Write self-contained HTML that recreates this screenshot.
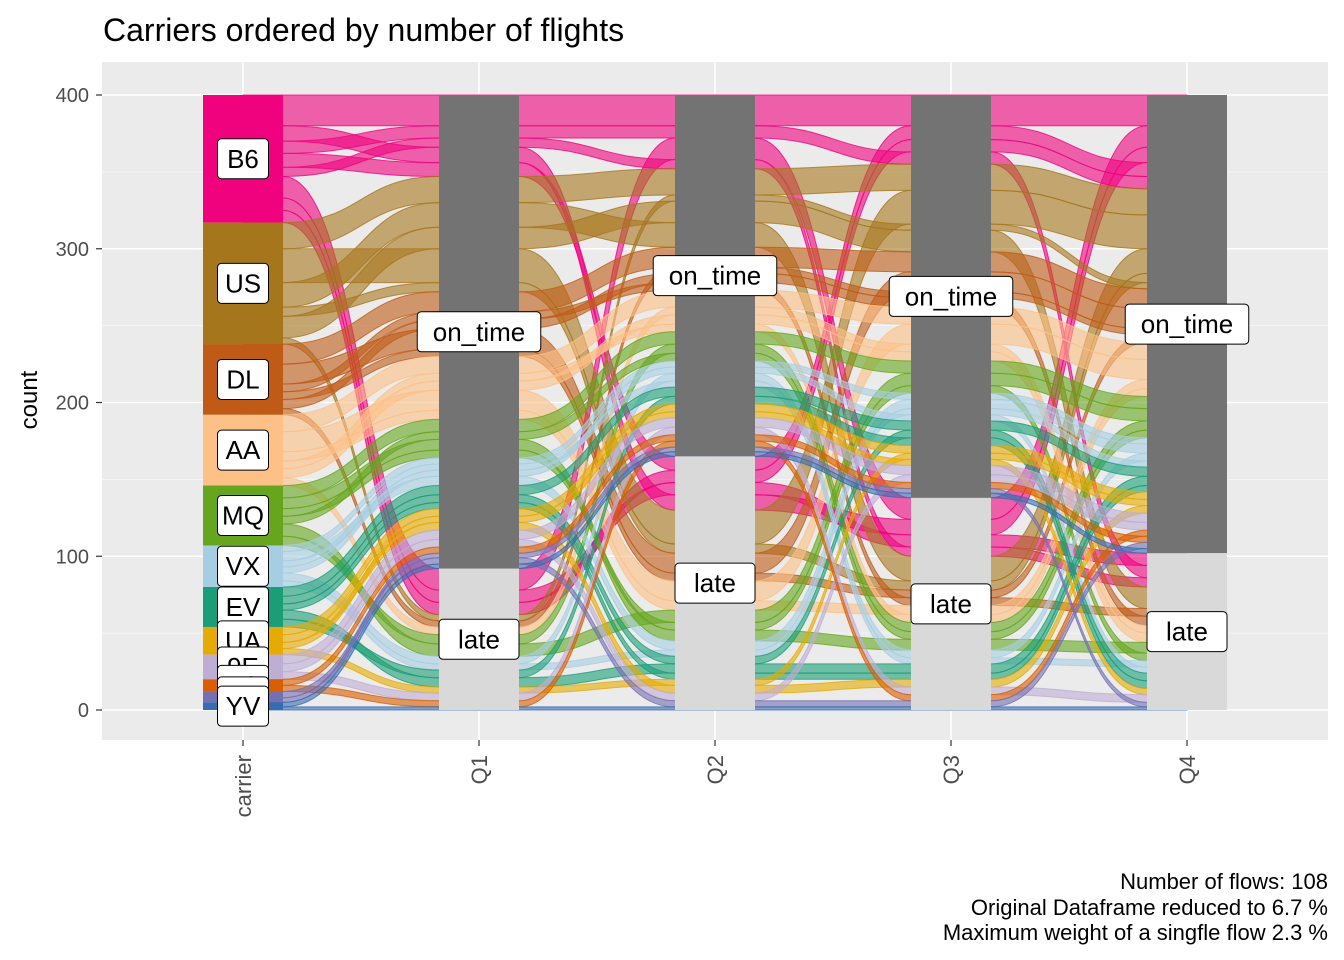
<!DOCTYPE html>
<html><head><meta charset="utf-8">
<style>
body{margin:0;background:#fff;}
svg{display:block;font-family:"Liberation Sans",Arial,sans-serif;}
</style></head>
<body>
<svg id="chart" width="1344" height="960">
<rect x="0" y="0" width="1344" height="960" fill="#fff"/>
<text x="103" y="41" font-size="32" fill="#000">Carriers ordered by number of flights</text>
<rect x="102" y="62" width="1226" height="678" fill="#EBEBEB"/>
<g id="grid"></g>
<g id="flows"></g>
<g id="bars"></g>
<g id="labels"></g>
<g id="axes"></g>
<text transform="translate(37,400) rotate(-90)" text-anchor="middle" font-size="24" fill="#000">count</text>
<g font-size="22" fill="#000" text-anchor="end">
<text x="1328" y="889">Number of flows: 108</text>
<text x="1328" y="915">Original Dataframe reduced to 6.7 %</text>
<text x="1328" y="940">Maximum weight of a singfle flow 2.3 %</text>
</g>
</svg>
<script>
const carriers = ["B6","US","DL","AA","MQ","VX","EV","UA","9E","F9","FL","YV"];
const carrierColors = ["#F0027F","#A6761D","#BF5B17","#FDC086","#66A61E","#A6CEE3","#1B9E77","#E6AB02","#BEAED4","#D95F02","#7570B3","#386CB0"];
const quarters = ["Q1","Q2","Q3","Q4"];
const yTicks = [0,100,200,300,400];
// flows: carrier, status pattern Q1..Q4 (O=on_time, L=late), weight
const flowCarrier = ["B6","B6","B6","B6","B6","B6","B6","B6",
 "US","US","US","US","US","US",
 "DL","DL","DL","DL","DL","DL",
 "AA","AA","AA","AA","AA","AA",
 "MQ","MQ","MQ","MQ","MQ","MQ",
 "VX","VX","VX","VX","VX","VX",
 "EV","EV","EV","EV","EV",
 "UA","UA","UA","UA",
 "9E","9E","9E",
 "F9","F9","FL","FL","YV","YV"];
const flowPattern = ["OOOO","LOLO","LLLL","OLLO","OOOL","OLOO","OOLL","LLOO",
 "OOOO","OLOO","OOLO","OLLO","LOOO","OOOL",
 "OOOO","OLOO","OOLL","LOOO","OLLO","OOOL",
 "OOOO","OLOO","OLLO","LOOL","OOLO","OOOL",
 "OOOO","LLOO","OLLL","LOLO","OLOL","OOLO",
 "OOOO","OLOO","LOLO","OOLL","LLOO","OOOL",
 "OOOO","LLLO","OLOL","LOOL","OLLO",
 "OOOO","LLOO","OLLO","OOOL",
 "OOOO","OLOO","LOLL",
 "LOLO","OOOO","OLLO","OOOL","OOOO","LLLL"];
const flowWeight = [20,14,8,10,8,9,6,8,
 17,22,16,6,4,14,
 13,13,5,4,5,6,
 11,13,6,5,5,6,
 8,8,7,6,5,5,
 4,6,5,4,4,4,
 6,6,5,5,4,
 5,4,5,4,
 6,5,5,
 4,4,4,3,3,2];

const NS="http://www.w3.org/2000/svg";
function mk(tag,attrs,parent){const e=document.createElementNS(NS,tag);for(const k in attrs)e.setAttribute(k,attrs[k]);parent.appendChild(e);return e;}
const Y=v=>710-v*1.5375;
const axisX=[243,479,715,951,1187];
const HW=40;

const grid=document.getElementById('grid');
[50,150,250,350].forEach(v=>mk('line',{x1:102,x2:1328,y1:Y(v),y2:Y(v),stroke:'#fff','stroke-width':0.8,opacity:0.6},grid));
yTicks.forEach(v=>mk('line',{x1:102,x2:1328,y1:Y(v),y2:Y(v),stroke:'#fff','stroke-width':1.6},grid));
axisX.forEach(x=>mk('line',{x1:x,x2:x,y1:62,y2:740,stroke:'#fff','stroke-width':1.6},grid));

const n=flowWeight.length;
const ci=flowCarrier.map(c=>carriers.indexOf(c));
function stratum(f,a){return a===0?ci[f]:(flowPattern[f][a-1]==='O'?0:1);}
function nextKey(f,a){return a<4?(flowPattern[f][a]==='O'?0:1):0;}
const pos=[];
for(let a=0;a<5;a++){
  const idx=[...Array(n).keys()].sort((p,q)=>{
    const sp=stratum(p,a),sq=stratum(q,a);
    if(sp!==sq)return sp-sq;
    if(ci[p]!==ci[q])return ci[p]-ci[q];
    const np=nextKey(p,a),nq=nextKey(q,a);
    if(np!==nq)return np-nq;
    return p-q;});
  let cum=400;const arr=[];
  idx.forEach(f=>{arr[f]=[cum,cum-flowWeight[f]];cum-=flowWeight[f];});
  pos.push(arr);
}
const fg=document.getElementById('flows');
for(let a=0;a<4;a++){
  const x1=axisX[a]+HW,x2=axisX[a+1]-HW,xm=(x1+x2)/2;
  for(let f=0;f<n;f++){
    const [t1,b1]=pos[a][f],[t2,b2]=pos[a+1][f];
    const d=`M${x1-HW},${Y(t1)} L${x1},${Y(t1)} C${xm},${Y(t1)} ${xm},${Y(t2)} ${x2},${Y(t2)} L${x2+HW},${Y(t2)} L${x2+HW},${Y(b2)} L${x2},${Y(b2)} C${xm},${Y(b2)} ${xm},${Y(b1)} ${x1},${Y(b1)} L${x1-HW},${Y(b1)} Z`;
    const p=mk('path',{d:d,fill:carrierColors[ci[f]],'fill-opacity':0.6,stroke:carrierColors[ci[f]],'stroke-opacity':0.8,'stroke-width':1},fg);
    
    
  }
}
const bg=document.getElementById('bars'),lg=document.getElementById('labels');
function label(x,yc,txt,name){
  const w=txt.length*14.5+22,h=40;
  const g=mk('g',{},lg);
  
  
  mk('rect',{x:x-w/2,y:yc-h/2,width:w,height:h,rx:4,fill:'#fff',stroke:'#000','stroke-width':1},g);
  const t=mk('text',{x:x,y:yc+9,'text-anchor':'middle','font-size':26,fill:'#000'},g);
  t.textContent=txt;
}
let cum=400;
carriers.forEach((c,i)=>{
  let tot=0;for(let f=0;f<n;f++)if(ci[f]===i)tot+=flowWeight[f];
  const r=mk('rect',{x:axisX[0]-HW,y:Y(cum),width:2*HW,height:tot*1.5375,fill:carrierColors[i]},bg);
  
  
  cum-=tot;
});
cum=400;
carriers.forEach((c,i)=>{
  let tot=0;for(let f=0;f<n;f++)if(ci[f]===i)tot+=flowWeight[f];
  label(axisX[0],Y(cum-tot/2),c,'label-'+c);
  cum-=tot;
});
for(let a=1;a<5;a++){
  let late=0;for(let f=0;f<n;f++)if(flowPattern[f][a-1]==='L')late+=flowWeight[f];
  const r1=mk('rect',{x:axisX[a]-HW,y:Y(400),width:2*HW,height:(400-late)*1.5375,fill:'#737373'},bg);
  
  
  const r2=mk('rect',{x:axisX[a]-HW,y:Y(late),width:2*HW,height:late*1.5375,fill:'#D9D9D9'},bg);
  
  
  label(axisX[a],Y(late+(400-late)/2),'on_time','label-'+quarters[a-1]+'-on-time');
  label(axisX[a],Y(late/2),'late','label-'+quarters[a-1]+'-late');
}
const ax=document.getElementById('axes');
yTicks.forEach(v=>{
  mk('line',{x1:96,x2:102,y1:Y(v),y2:Y(v),stroke:'#333','stroke-width':1.2},ax);
  const t=mk('text',{x:89,y:Y(v)+7,'text-anchor':'end','font-size':20,fill:'#4D4D4D'},ax);
  
  
  t.textContent=v;
});
const xl=["carrier"].concat(quarters);
xl.forEach((s,i)=>{
  mk('line',{x1:axisX[i],x2:axisX[i],y1:740,y2:746,stroke:'#333','stroke-width':1.2},ax);
  const t=mk('text',{transform:`translate(${axisX[i]+8},755) rotate(-90)`,'text-anchor':'end','font-size':22,fill:'#4D4D4D'},ax);
  
  
  t.textContent=s;
});
</script>
</body></html>
